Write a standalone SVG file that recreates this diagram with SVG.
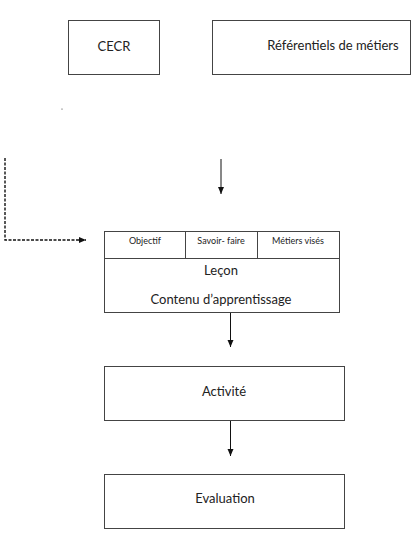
<svg xmlns="http://www.w3.org/2000/svg" width="411" height="537" viewBox="0 0 411 537">
<style>
.box{fill:#fff;stroke:#444;stroke-width:1}
.t{font-family:Lato,"Open Sans",sans-serif;fill:#222;text-anchor:middle}
.m{font-size:13px}
.s{font-size:9px}
.c{stroke:#111;stroke-width:1;fill:none}
.d{stroke:#111;stroke-width:1.4;fill:none;stroke-dasharray:3 1.5}
</style>
<defs>
<marker id="ah" markerWidth="8" markerHeight="8" refX="7" refY="4" orient="auto" markerUnits="userSpaceOnUse">
<path d="M0,1 L7,4 L0,7 Z" fill="#111"/>
</marker>
</defs>
<rect width="411" height="537" fill="#fff"/>
<g id="cecr">
<rect class="box" x="68.5" y="20.5" width="91" height="54"/>
<text class="t m" x="114" y="51">CECR</text>
</g>
<g id="referentiels">
<rect class="box" x="212.5" y="20.5" width="198" height="54"/>
<text class="t m" x="333" y="50">Référentiels de métiers</text>
</g>
<g id="dot"><circle cx="62" cy="109" r="0.6" fill="#333"/></g>
<g id="lecon">
<rect class="box" x="104.5" y="231.5" width="235" height="81"/>
<line class="box" x1="104.5" y1="258.5" x2="339.5" y2="258.5"/>
<line class="box" x1="185.5" y1="231.5" x2="185.5" y2="258.5"/>
<line class="box" x1="257.5" y1="231.5" x2="257.5" y2="258.5"/>
<text class="t s" x="145" y="244">Objectif</text>
<text class="t s" x="221" y="244">Savoir- faire</text>
<text class="t s" x="298" y="244">Métiers visés</text>
<text class="t m" x="221" y="275">Leçon</text>
<text class="t m" x="221" y="304">Contenu d’apprentissage</text>
</g>
<g id="activite">
<rect class="box" x="104.5" y="366.5" width="240" height="54"/>
<text class="t m" x="224" y="396">Activité</text>
</g>
<g id="evaluation">
<rect class="box" x="104.5" y="474.5" width="240" height="54"/>
<text class="t m" x="225" y="503">Evaluation</text>
</g>
<g id="connectors">
<line class="c" x1="221" y1="159" x2="221" y2="194" marker-end="url(#ah)"/>
<polyline class="d" points="5,158 5,240 86,240" marker-end="url(#ah)"/>
<line class="c" x1="230.5" y1="313" x2="230.5" y2="347" marker-end="url(#ah)"/>
<line class="c" x1="230.5" y1="421" x2="230.5" y2="456" marker-end="url(#ah)"/>
</g>
</svg>
